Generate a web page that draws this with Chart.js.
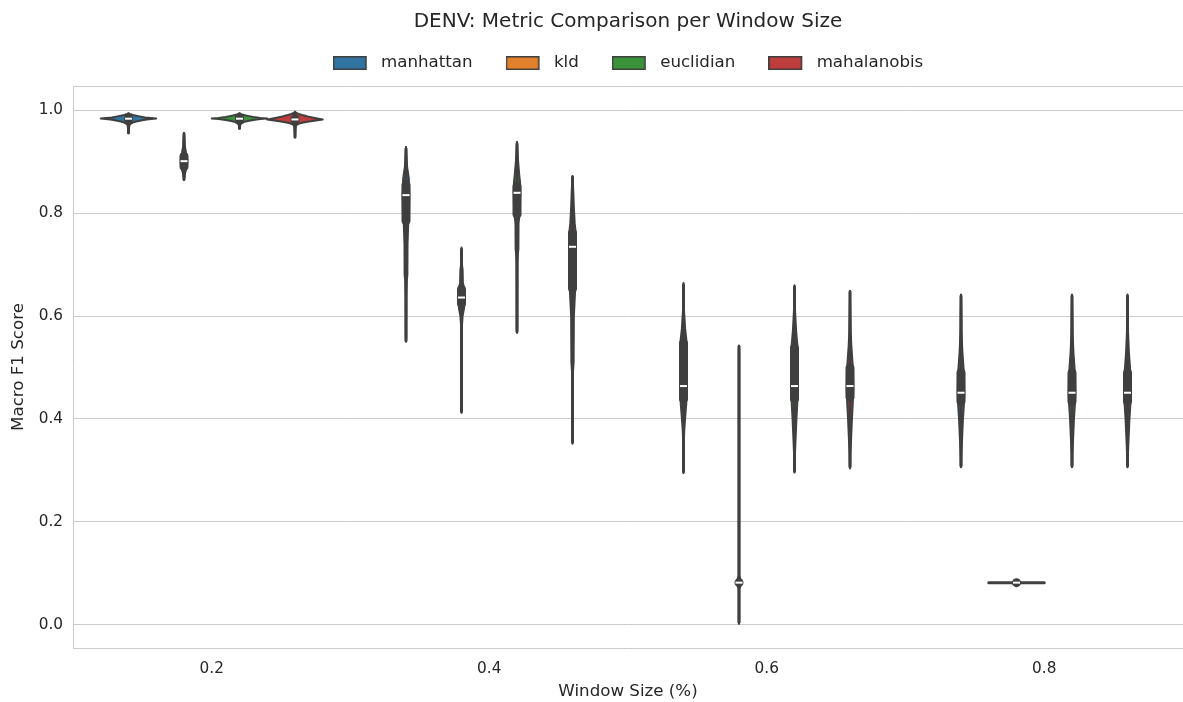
<!DOCTYPE html>
<html>
<head>
<meta charset="utf-8">
<script src="https://cdn.jsdelivr.net/npm/chart.js@4.4.0/dist/chart.umd.min.js"></script>
<style>
  html, body { margin: 0; padding: 0; background: #fff; }
</style>
</head>
<body>
<canvas id="chart" width="1183" height="702"></canvas>
<script>
// Categories and series
const windowSizes = ['0.2', '0.4', '0.6', '0.8'];
const metrics = ['manhattan', 'kld', 'euclidian', 'mahalanobis'];
const yTicks = [0.0, 0.2, 0.4, 0.6, 0.8, 1.0];

// [whisker low, q1, median, q3, whisker high] per window size
const manhattanBox = [
    [0.956, 0.9825, 0.9835, 0.9845, 0.993],
    [0.552, 0.785, 0.835, 0.855, 0.925],
    [0.298, 0.439, 0.464, 0.548, 0.661],
    [0.309, 0.434, 0.451, 0.490, 0.639]
];
const kldBox = [
    [0.866, 0.890, 0.901, 0.910, 0.954],
    [0.415, 0.624, 0.636, 0.652, 0.730],
    [0.005, 0.082, 0.082, 0.082, 0.541],
    [0.082, 0.082, 0.082, 0.082, 0.082]
];
const euclidianBox = [
    [0.965, 0.9825, 0.9835, 0.9845, 0.993],
    [0.570, 0.798, 0.8395, 0.852, 0.935],
    [0.299, 0.439, 0.464, 0.538, 0.657],
    [0.309, 0.434, 0.451, 0.490, 0.639]
];
const mahalanobisBox = [
    [0.948, 0.981, 0.982, 0.983, 0.995],
    [0.355, 0.654, 0.7346, 0.7615, 0.870],
    [0.307, 0.4424, 0.464, 0.4994, 0.647],
    [0.309, 0.434, 0.451, 0.490, 0.639]
];

// violin outlines: [score, density as share of the full half width]
const manhattanShape = [
    [[0.955, 0], [0.970, 0.03], [0.973, 0.06], [0.976, 0.15], [0.978, 0.28], [0.980, 0.45], [0.982, 0.65], [0.983, 0.82], [0.984, 1], [0.985, 0.8], [0.986, 0.6], [0.988, 0.4], [0.990, 0.2], [0.992, 0.08], [0.994, 0]],
    [[0.550, 0], [0.56, 0.01], [0.64, 0.015], [0.67, 0.03], [0.68, 0.05], [0.74, 0.055], [0.78, 0.08], [0.80, 0.11], [0.835, 0.12], [0.855, 0.11], [0.868, 0.1], [0.89, 0.04], [0.91, 0.02], [0.929, 0]],
    [[0.295, 0], [0.30, 0.01], [0.36, 0.015], [0.38, 0.03], [0.41, 0.07], [0.43, 0.1], [0.46, 0.12], [0.53, 0.12], [0.555, 0.1], [0.575, 0.06], [0.60, 0.03], [0.615, 0.015], [0.664, 0]],
    [[0.306, 0], [0.31, 0.01], [0.33, 0.015], [0.35, 0.03], [0.40, 0.07], [0.425, 0.1], [0.45, 0.12], [0.48, 0.11], [0.50, 0.09], [0.53, 0.05], [0.57, 0.02], [0.60, 0.015], [0.642, 0]]
];
const kldShape = [
    [[0.864, 0], [0.875, 0.03], [0.885, 0.07], [0.893, 0.11], [0.901, 0.12], [0.910, 0.11], [0.918, 0.07], [0.93, 0.03], [0.945, 0.015], [0.956, 0]],
    [[0.412, 0], [0.42, 0.01], [0.58, 0.015], [0.60, 0.04], [0.615, 0.09], [0.637, 0.12], [0.652, 0.1], [0.665, 0.05], [0.69, 0.04], [0.70, 0.015], [0.733, 0]],
    [[0.002, 0], [0.01, 0.01], [0.07, 0.01], [0.082, 0.1], [0.095, 0.01], [0.53, 0.01], [0.543, 0]],
    [[0.082, 1]]
];
const euclidianShape = [
    [[0.964, 0], [0.970, 0.02], [0.974, 0.06], [0.977, 0.15], [0.979, 0.3], [0.981, 0.5], [0.983, 0.75], [0.984, 1], [0.985, 0.75], [0.987, 0.5], [0.989, 0.3], [0.991, 0.12], [0.993, 0.04], [0.994, 0]],
    [[0.567, 0], [0.575, 0.01], [0.70, 0.015], [0.72, 0.03], [0.73, 0.05], [0.78, 0.055], [0.80, 0.1], [0.84, 0.12], [0.86, 0.11], [0.875, 0.08], [0.90, 0.04], [0.92, 0.02], [0.9385, 0]],
    [[0.296, 0], [0.30, 0.01], [0.33, 0.015], [0.35, 0.03], [0.40, 0.07], [0.43, 0.1], [0.46, 0.12], [0.52, 0.12], [0.545, 0.1], [0.57, 0.06], [0.60, 0.03], [0.615, 0.015], [0.66, 0]],
    [[0.306, 0], [0.31, 0.01], [0.33, 0.015], [0.35, 0.03], [0.40, 0.07], [0.425, 0.1], [0.45, 0.12], [0.48, 0.11], [0.50, 0.09], [0.53, 0.05], [0.57, 0.02], [0.60, 0.015], [0.642, 0]]
];
const mahalanobisShape = [
    [[0.947, 0], [0.960, 0.015], [0.969, 0.03], [0.972, 0.07], [0.974, 0.15], [0.976, 0.3], [0.978, 0.5], [0.980, 0.75], [0.982, 1], [0.984, 0.8], [0.986, 0.62], [0.988, 0.45], [0.990, 0.3], [0.992, 0.17], [0.994, 0.07], [0.996, 0.02], [0.997, 0]],
    [[0.352, 0], [0.36, 0.01], [0.49, 0.015], [0.51, 0.04], [0.60, 0.05], [0.645, 0.09], [0.66, 0.12], [0.73, 0.12], [0.765, 0.11], [0.78, 0.08], [0.81, 0.05], [0.84, 0.03], [0.872, 0]],
    [[0.304, 0], [0.31, 0.01], [0.33, 0.015], [0.35, 0.03], [0.40, 0.07], [0.43, 0.1], [0.46, 0.12], [0.49, 0.11], [0.51, 0.09], [0.54, 0.05], [0.57, 0.025], [0.60, 0.015], [0.649, 0]],
    [[0.306, 0], [0.31, 0.01], [0.33, 0.015], [0.35, 0.03], [0.40, 0.07], [0.425, 0.1], [0.45, 0.12], [0.48, 0.11], [0.50, 0.09], [0.53, 0.05], [0.57, 0.02], [0.60, 0.015], [0.642, 0]]
];

const boxes = [manhattanBox, kldBox, euclidianBox, mahalanobisBox];
const shapes = [manhattanShape, kldShape, euclidianShape, mahalanobisShape];
const fills = ['#3274a1', '#e1812c', '#3a923a', '#c03d3e'];
const ink = '#3f3f3f';
const textColor = '#262626';
const font = 'DejaVu Sans';

// rounded vertical stroke from one pixel to another (caps included)
function pill(ctx, cx, pa, pb, r) {
    ctx.beginPath();
    ctx.arc(cx, Math.min(pa, pb), r, Math.PI, 0);
    ctx.arc(cx, Math.max(pa, pb), r, 0, Math.PI);
    ctx.closePath();
    ctx.fill();
}

function drawBody(ctx, y, cx, half, shape, fill) {
    ctx.save();
    ctx.strokeStyle = ink;
    ctx.lineJoin = 'round';
    ctx.lineCap = 'round';
    if (shape.length === 1) {
        // all values equal: seaborn draws a flat line
        const py = y.getPixelForValue(shape[0][0]);
        ctx.lineWidth = 3;
        ctx.beginPath();
        ctx.moveTo(cx - half * shape[0][1], py);
        ctx.lineTo(cx + half * shape[0][1], py);
        ctx.stroke();
    } else {
        ctx.lineWidth = 2;
        ctx.beginPath();
        shape.forEach(([v, w], i) => {
            const px = cx + w * half, py = y.getPixelForValue(v);
            if (i === 0) ctx.moveTo(px, py); else ctx.lineTo(px, py);
        });
        for (let i = shape.length - 1; i >= 0; i--) {
            ctx.lineTo(cx - shape[i][1] * half, y.getPixelForValue(shape[i][0]));
        }
        ctx.closePath();
        ctx.fillStyle = fill;
        ctx.fill();
        ctx.stroke();
    }
    ctx.restore();
}

function drawInner(ctx, y, cx, stats) {
    const [lo, q1, med, q3, hi] = stats.map(v => y.getPixelForValue(v));
    ctx.save();
    ctx.fillStyle = ink;
    pill(ctx, cx, lo, hi, 1.5);
    pill(ctx, cx, q1, q3, 4.5);
    ctx.strokeStyle = '#ffffff';
    ctx.lineWidth = 2;
    ctx.beginPath();
    ctx.moveTo(cx - 3.5, med);
    ctx.lineTo(cx + 3.5, med);
    ctx.stroke();
    ctx.restore();
}

const violinPlugin = {
    id: 'violins',
    afterDatasetsDraw(chart) {
        const { ctx, scales: { y } } = chart;
        chart.data.datasets.forEach((ds, m) => {
            chart.getDatasetMeta(m).data.forEach((bar, w) => {
                drawBody(ctx, y, bar.x, bar.width / 2, shapes[m][w], fills[m]);
                drawInner(ctx, y, bar.x, boxes[m][w]);
            });
        });
    }
};

// legend swatch: patch on the left, gap before the text
function swatch(fill) {
    const c = document.createElement('canvas');
    c.width = 40;
    c.height = 14;
    const g = c.getContext('2d');
    g.fillStyle = fill;
    g.strokeStyle = ink;
    g.lineWidth = 1.5;
    g.fillRect(0.75, 0.75, 32.5, 12.5);
    g.strokeRect(0.75, 0.75, 32.5, 12.5);
    return c;
}

new Chart(document.getElementById('chart'), {
    type: 'bar',
    data: {
        labels: windowSizes,
        datasets: metrics.map((name, m) => ({
            label: name,
            data: boxes[m].map(b => b[2]),
            backgroundColor: 'rgba(0,0,0,0)',
            borderWidth: 0,
            categoryPercentage: 0.8,
            barPercentage: 1.0
        }))
    },
    options: {
        responsive: false,
        animation: false,
        events: [],
        layout: { padding: { right: -2 } },
        plugins: {
            title: {
                display: true,
                fullSize: false,
                text: 'DENV: Metric Comparison per Window Size',
                color: textColor,
                font: { family: font, size: 20, weight: 'normal' },
                padding: { top: 10, bottom: -12.33 }
            },
            legend: {
                display: true,
                fullSize: false,
                labels: {
                    usePointStyle: true,
                    pointStyleWidth: 40,
                    padding: 33,
                    color: textColor,
                    font: { family: font, size: 16.67 },
                    generateLabels: () => metrics.map((name, m) => ({
                        text: name,
                        fillStyle: fills[m],
                        strokeStyle: ink,
                        lineWidth: 1.5,
                        pointStyle: swatch(fills[m]),
                        fontColor: textColor,
                        datasetIndex: m,
                        hidden: false
                    }))
                }
            },
            tooltip: { enabled: false }
        },
        scales: {
            x: {
                type: 'category',
                position: 'bottom',
                grid: { display: false },
                border: { display: true, color: '#cccccc', width: 1 },
                ticks: { color: textColor, font: { family: font, size: 15.28 }, padding: 4 },
                title: {
                    display: true,
                    text: 'Window Size (%)',
                    color: textColor,
                    font: { family: font, size: 16.67 },
                    padding: { top: 0, bottom: 0 }
                },
                afterFit: (scale) => { scale.height = 54; }
            },
            xTop: {
                type: 'category',
                position: 'top',
                grid: { display: false, drawTicks: false },
                border: { display: true, color: '#cccccc', width: 1 },
                ticks: { display: false },
                afterFit: (scale) => { scale.height = 4.67; }
            },
            y: {
                min: -0.045,
                max: 1.047,
                grid: { color: '#cccccc', lineWidth: 1, drawTicks: false },
                border: { display: true, color: '#cccccc', width: 1 },
                afterBuildTicks: (scale) => { scale.ticks = yTicks.map(value => ({ value })); },
                ticks: {
                    color: textColor,
                    font: { family: font, size: 15.28 },
                    padding: 10,
                    callback: (v) => Number(v).toFixed(1)
                },
                title: {
                    display: true,
                    text: 'Macro F1 Score',
                    color: textColor,
                    font: { family: font, size: 16.67 },
                    padding: { top: 9, bottom: 0 }
                },
                afterFit: (scale) => { scale.width = 73; }
            }
        }
    },
    plugins: [violinPlugin]
});
</script>
</body>
</html>
